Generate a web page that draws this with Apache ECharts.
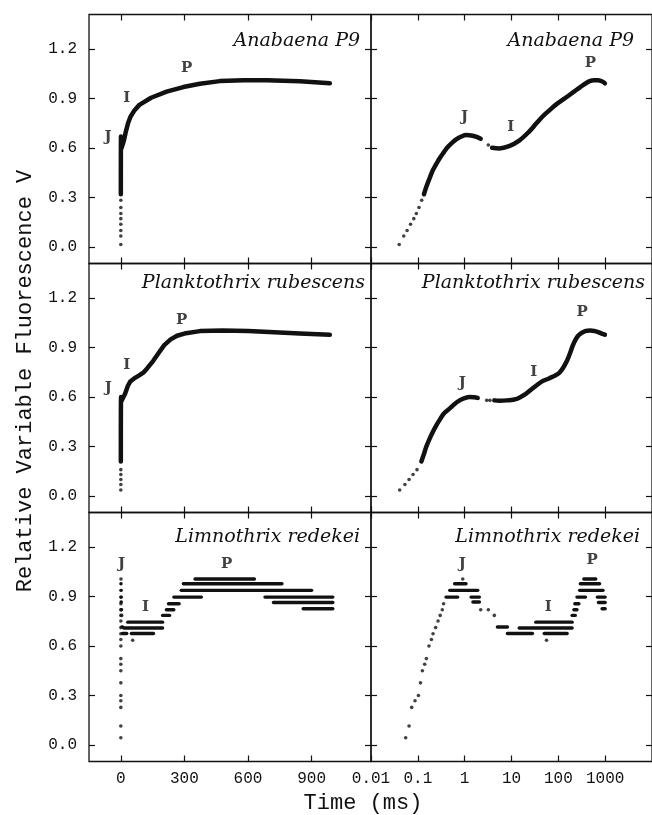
<!DOCTYPE html>
<html>
<head>
<meta charset="utf-8">
<script src="https://cdn.jsdelivr.net/npm/echarts@6/dist/echarts.min.js"></script>
<style>
  html, body { margin: 0; padding: 0; background: #fff; }
  #chart { width: 652px; height: 815px; }
</style>
</head>
<body>
<div id="chart"></div>
<script>
// ---- axis ticks ----
const vTicks = [0.0, 0.3, 0.6, 0.9, 1.2];
const timeTicksLinear = [0, 300, 600, 900];
const timeTicksLog = [0.01, 0.1, 1, 10, 100, 1000];
const timeTickLabelsLog = ['0.01', '0.1', '1', '10', '100', '1000'];

const speciesNames = ['Anabaena P9', 'Planktothrix rubescens', 'Limnothrix redekei'];

// ---- Anabaena P9: [time ms, V] ----
const anabaenaDots = [
  [0.04, 0.015], [0.05, 0.067], [0.059, 0.10], [0.07, 0.138], [0.082, 0.172],
  [0.093, 0.203], [0.106, 0.24], [0.121, 0.284], [3.2, 0.619]
];
const anabaenaTraceFast = [
  [0.135, 0.32], [0.152, 0.365], [0.18, 0.42], [0.21, 0.467], [0.25, 0.505],
  [0.29, 0.537], [0.36, 0.575], [0.44, 0.608], [0.55, 0.635], [0.66, 0.653],
  [0.85, 0.67], [1.07, 0.679], [1.48, 0.675], [1.8, 0.668], [2.2, 0.657]
];
const anabaenaTraceSlow = [
  [3.85, 0.602], [5.5, 0.598], [8.9, 0.612], [14.6, 0.645], [23.8, 0.70],
  [34, 0.75], [45.6, 0.79], [65, 0.83], [87.6, 0.862], [143, 0.905],
  [216, 0.942], [295, 0.97], [373, 0.99], [467, 1.006], [580, 1.011],
  [688, 1.011], [845, 1.005], [986, 0.993]
];
const anabaenaPhasesLin = [['J', -60, 0.667], ['I', 28, 0.90], ['P', 310, 1.085]];
const anabaenaPhasesLog = [['J', 1.0, 0.79], ['I', 9.7, 0.726], ['P', 485, 1.115]];

// ---- Planktothrix rubescens ----
const planktoDots = [
  [0.041, 0.036], [0.053, 0.07], [0.065, 0.10], [0.079, 0.13], [0.096, 0.16],
  [2.96, 0.58], [3.46, 0.58]
];
const planktoTraceFast = [
  [0.119, 0.21], [0.135, 0.255], [0.152, 0.30], [0.18, 0.35], [0.21, 0.39],
  [0.25, 0.43], [0.29, 0.46], [0.36, 0.50], [0.475, 0.53], [0.6, 0.557],
  [0.78, 0.58], [1.0, 0.593], [1.26, 0.60], [1.6, 0.599], [1.9, 0.595]
];
const planktoTraceSlow = [
  [4.3, 0.58], [5.5, 0.578], [8, 0.58], [12.4, 0.587], [20.2, 0.62],
  [32.9, 0.667], [45, 0.695], [63, 0.713], [85, 0.73], [106, 0.748],
  [125, 0.775], [153, 0.82], [180, 0.87], [205, 0.915], [235, 0.95],
  [265, 0.972], [300, 0.985], [373, 1.0], [480, 1.004], [600, 1.0],
  [700, 0.994], [844, 0.985], [986, 0.978]
];
const planktoPhasesLin = [['J', -59, 0.653], ['I', 28, 0.793], ['P', 287, 1.064]];
const planktoPhasesLog = [['J', 0.885, 0.683], ['I', 30, 0.753], ['P', 322, 1.114]];

// ---- Limnothrix redekei (quantised signal) ----
const limnoDots = [
  [0.055, 0.044], [0.065, 0.115], [0.074, 0.228], [0.087, 0.268], [0.103, 0.30],
  [0.114, 0.377], [0.125, 0.45], [0.14, 0.49], [0.152, 0.524], [0.173, 0.60],
  [0.195, 0.64], [0.211, 0.675], [0.24, 0.712], [0.27, 0.752], [0.30, 0.786],
  [0.333, 0.82], [0.355, 0.857], [0.91, 1.007], [2.2, 0.82], [3.2, 0.82],
  [4.3, 0.786], [56, 0.635]
];
// [start ms, end ms, V] runs of equal readings
const limnoLevels = [
  [0.40, 0.71, 0.897], [0.48, 1.9, 0.938], [0.61, 1.07, 0.978], [1.37, 2.06, 0.897],
  [1.5, 2.06, 0.867], [5.0, 8.2, 0.716], [8.2, 28, 0.676], [14.6, 197, 0.71],
  [33, 197, 0.745], [50, 154, 0.676], [197, 230, 0.786], [215, 250, 0.82],
  [225, 275, 0.857], [250, 380, 0.897], [285, 900, 0.938], [295, 760, 0.978],
  [350, 630, 1.007], [680, 1000, 0.897], [720, 1000, 0.864], [860, 1000, 0.826]
];
const limnoPhasesLin = [['J', 4, 1.10], ['I', 117, 0.837], ['P', 499, 1.10]];
const limnoPhasesLog = [['J', 0.885, 1.10], ['I', 61, 0.837], ['P', 525, 1.12]];

// ---- layout ----
const rowTops = [14.5, 263.5, 512.5];
const colLefts = [89, 371];
const panelW = 282, panelH = 249;
const titleRight = [[292, 18], [287, 7], [292, 12]];
const titleCenterY = [41, 283, 537];

const INK = '#111';
const monoFont = 'Liberation Mono';
const serifFont = 'DejaVu Serif';

const grids = [], xAxes = [], yAxes = [], series = [], titles = [];

function logLabel(v) {
  let best = 0, d = Infinity;
  timeTicksLog.forEach((t, i) => {
    const dd = Math.abs(Math.log10(v) - Math.log10(t));
    if (dd < d) { d = dd; best = i; }
  });
  return timeTickLabelsLog[best];
}

const panels = [
  { dots: anabaenaDots, traces: [anabaenaTraceFast, anabaenaTraceSlow], phases: [anabaenaPhasesLin, anabaenaPhasesLog] },
  { dots: planktoDots, traces: [planktoTraceFast, planktoTraceSlow], phases: [planktoPhasesLin, planktoPhasesLog] },
  { dots: limnoDots, levels: limnoLevels, phases: [limnoPhasesLin, limnoPhasesLog] }
];

for (let r = 0; r < 3; r++) {
  for (let c = 0; c < 2; c++) {
    const g = r * 2 + c;
    grids.push({
      left: colLefts[c], top: rowTops[r], width: panelW, height: panelH,
      show: true, borderColor: INK, borderWidth: 1.3, backgroundColor: 'transparent'
    });
    const isLog = c === 1;
    const xTicks = isLog ? timeTicksLog : timeTicksLinear;
    const xBase = isLog
      ? { type: 'log', logBase: 10, min: 0.01, max: 10000 }
      : { type: 'value', min: -150, max: 1180 };
    ['bottom', 'top'].forEach((pos) => {
      xAxes.push(Object.assign({}, xBase, {
        gridIndex: g, position: pos,
        axisLine: { show: false, onZero: false },
        splitLine: { show: false },
        axisTick: {
          show: true, inside: true, length: 6, customValues: xTicks,
          lineStyle: { color: INK, width: 1.2 }
        },
        axisLabel: {
          show: pos === 'bottom' && r === 2, customValues: xTicks,
          margin: 9, fontFamily: monoFont, fontSize: 16, color: INK,
          formatter: isLog ? logLabel : (v) => String(Math.round(v))
        }
      }));
    });
    ['left', 'right'].forEach((pos) => {
      yAxes.push({
        type: 'value', gridIndex: g, position: pos, min: -0.1, max: 1.41,
        axisLine: { show: false, onZero: false },
        splitLine: { show: false },
        axisTick: {
          show: true, inside: true, length: 6, customValues: vTicks,
          lineStyle: { color: INK, width: 1.2 }
        },
        axisLabel: {
          show: pos === 'left' && c === 0, customValues: vTicks,
          margin: 12, fontFamily: monoFont, fontSize: 16, color: INK,
          formatter: (v) => v.toFixed(1)
        }
      });
    });

    const p = panels[r];
    const axisRef = { xAxisIndex: 2 * g, yAxisIndex: 2 * g };

    (p.traces || []).forEach((tr) => {
      series.push(Object.assign({
        type: 'line', data: tr, showSymbol: false, smooth: isLog ? 0.35 : 0,
        lineStyle: { color: INK, width: 4.5, cap: 'round', join: 'round' },
        silent: true, animation: false
      }, axisRef));
    });

    series.push(Object.assign({
      type: 'scatter', data: p.dots, symbolSize: 3.6,
      itemStyle: { color: INK }, silent: true, animation: false
    }, axisRef));

    if (p.levels) {
      series.push(Object.assign({
        type: 'custom', data: p.levels, silent: true, animation: false,
        encode: { x: [0, 1], y: 2 },
        renderItem: (params, api) => {
          const a = api.coord([api.value(0), api.value(2)]);
          const b = api.coord([api.value(1), api.value(2)]);
          return {
            type: 'line',
            shape: { x1: a[0], y1: a[1], x2: b[0], y2: b[1] },
            style: { stroke: INK, lineWidth: 3.4, lineCap: 'round' }
          };
        }
      }, axisRef));
    }

    series.push(Object.assign({
      type: 'scatter',
      data: p.phases[c].map(([name, t, v]) => [t, v, name]),
      symbolSize: 0, silent: true, animation: false,
      label: {
        show: true, position: 'inside', formatter: (q) => q.value[2],
        fontFamily: serifFont, fontWeight: 'bold', fontSize: 15, color: INK
      }
    }, axisRef));

    titles.push({
      text: speciesNames[r],
      right: titleRight[r][c], top: titleCenterY[r] - 10, padding: 0,
      textStyle: {
        fontFamily: serifFont, fontStyle: 'italic', fontWeight: 'normal',
        fontSize: 19, lineHeight: 20, color: INK
      }
    });
  }
}

const chart = echarts.init(document.getElementById('chart'), null, { renderer: 'canvas' });
chart.setOption({
  backgroundColor: '#fff',
  animation: false,
  title: titles,
  grid: grids,
  xAxis: xAxes,
  yAxis: yAxes,
  series: series,
  graphic: [
    {
      type: 'text', x: 25, y: 381, rotation: Math.PI / 2,
      style: {
        text: 'Relative Variable Fluorescence V', fill: INK,
        font: '22px "Liberation Mono"', textAlign: 'center', textVerticalAlign: 'middle'
      }
    },
    {
      type: 'text', x: 363, y: 803,
      style: {
        text: 'Time (ms)', fill: INK,
        font: '22px "Liberation Mono"', textAlign: 'center', textVerticalAlign: 'middle'
      }
    }
  ]
});
</script>
</body>
</html>
